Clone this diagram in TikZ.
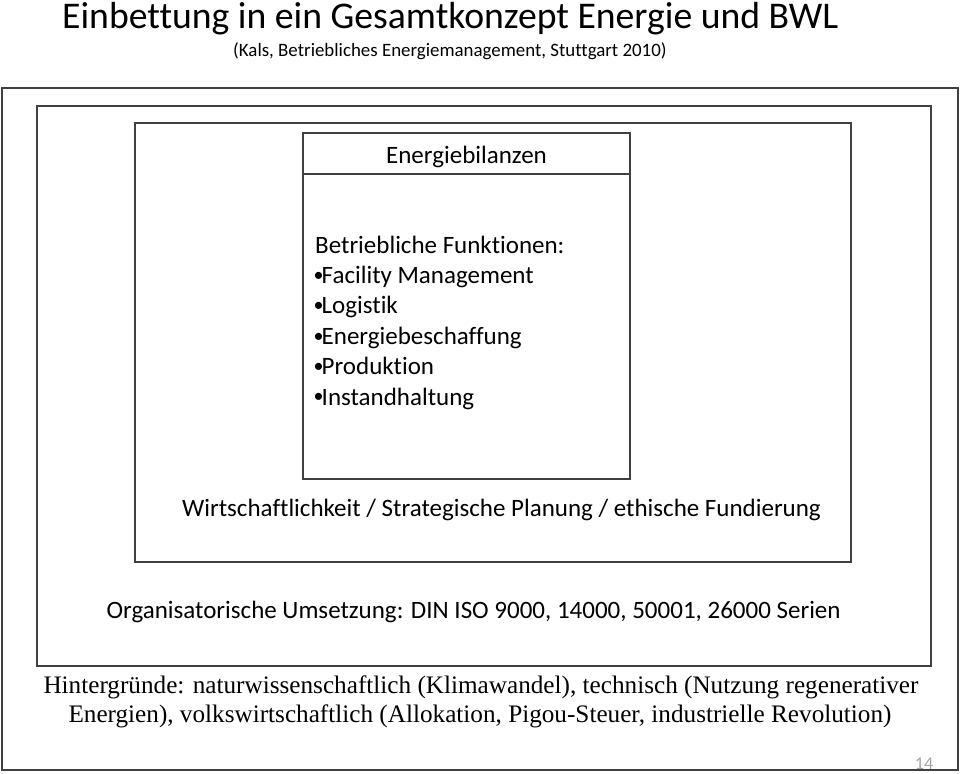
\documentclass[tikz,border=0pt]{standalone}
\usepackage{fontspec}
\setmainfont[Ligatures=NoCommon]{Carlito}
\newfontfamily\serifTNR{Liberation Serif}
\newcommand{\smbul}{\makebox[8pt][l]{\raisebox{2.2pt}{\fontsize{20}{20}\selectfont •}}}
\tikzset{
  frame/.style={draw=black!75, line width=1.6pt},
  lbl/.style={inner sep=0pt, anchor=base, font=\fontsize{25}{29}\selectfont},
  lblw/.style={inner sep=0pt, anchor=base west, font=\fontsize{25}{29}\selectfont},
  serifl/.style={inner sep=0pt, anchor=base, font=\serifTNR\fontsize{25.2}{29}\selectfont},
}
\begin{document}
\begin{tikzpicture}[x=1pt,y=-1pt]
\useasboundingbox (0,0) rectangle (960,773);
% boxes
\node[frame, minimum width=956pt, minimum height=682pt, inner sep=0pt] (outer) at (480,429) {};
\node[frame, minimum width=894pt, minimum height=560pt, inner sep=0pt] (second) at (484,386) {};
\node[frame, minimum width=716pt, minimum height=439pt, inner sep=0pt] (third) at (493,342.5) {};
\node[frame, minimum width=327pt, minimum height=346pt, inner sep=0pt] (inner) at (466.5,306) {};
\coordinate (dl) at (303,174);
\coordinate (dr) at (630,174);
\draw[frame] (dl) -- (dr);
% title
\node[inner sep=0pt, anchor=base west, font=\fontsize{37.7}{42}\selectfont] (title) at (62,29) {Einbettung in ein Gesamtkonzept Energie und BWL};
\node[inner sep=0pt, anchor=base west, font=\fontsize{18.9}{22}\selectfont] (sub) at (233,57) {(Kals, Betriebliches Energiemanagement, Stuttgart 2010)};
% inner texts
\node[lbl] (eb) at (466.5,163) {Energiebilanzen};
\node[lblw] (bf) at (315,253) {Betriebliche Funktionen:};
\node[lblw] (b1) at (313.5,283.4) {\smbul Facility Management};
\node[lblw] (b2) at (313.5,313.8) {\smbul Logistik};
\node[lblw] (b3) at (313.5,344.2) {\smbul Energiebeschaffung};
\node[lblw] (b4) at (313.5,374.6) {\smbul Produktion};
\node[lblw] (b5) at (313.5,405) {\smbul Instandhaltung};
\node[lbl] (wi) at (501.5,516) {Wirtschaftlichkeit / Strategische Planung / ethische Fundierung};
\node[lbl] (org) at (473.5,618) {Organisatorische Umsetzung: DIN ISO 9000, 14000, 50001, 26000 Serien};
\node[serifl] (h1) at (481,693) {Hintergründe: naturwissenschaftlich (Klimawandel), technisch (Nutzung regenerativer};
\node[serifl] (h2) at (480,722) {Energien), volkswirtschaftlich (Allokation, Pigou-Steuer, industrielle Revolution)};
\node[inner sep=0pt, anchor=base, text=black!35, font=\fontsize{18}{20}\selectfont] (pg) at (924,769) {14};
\end{tikzpicture}
\end{document}
